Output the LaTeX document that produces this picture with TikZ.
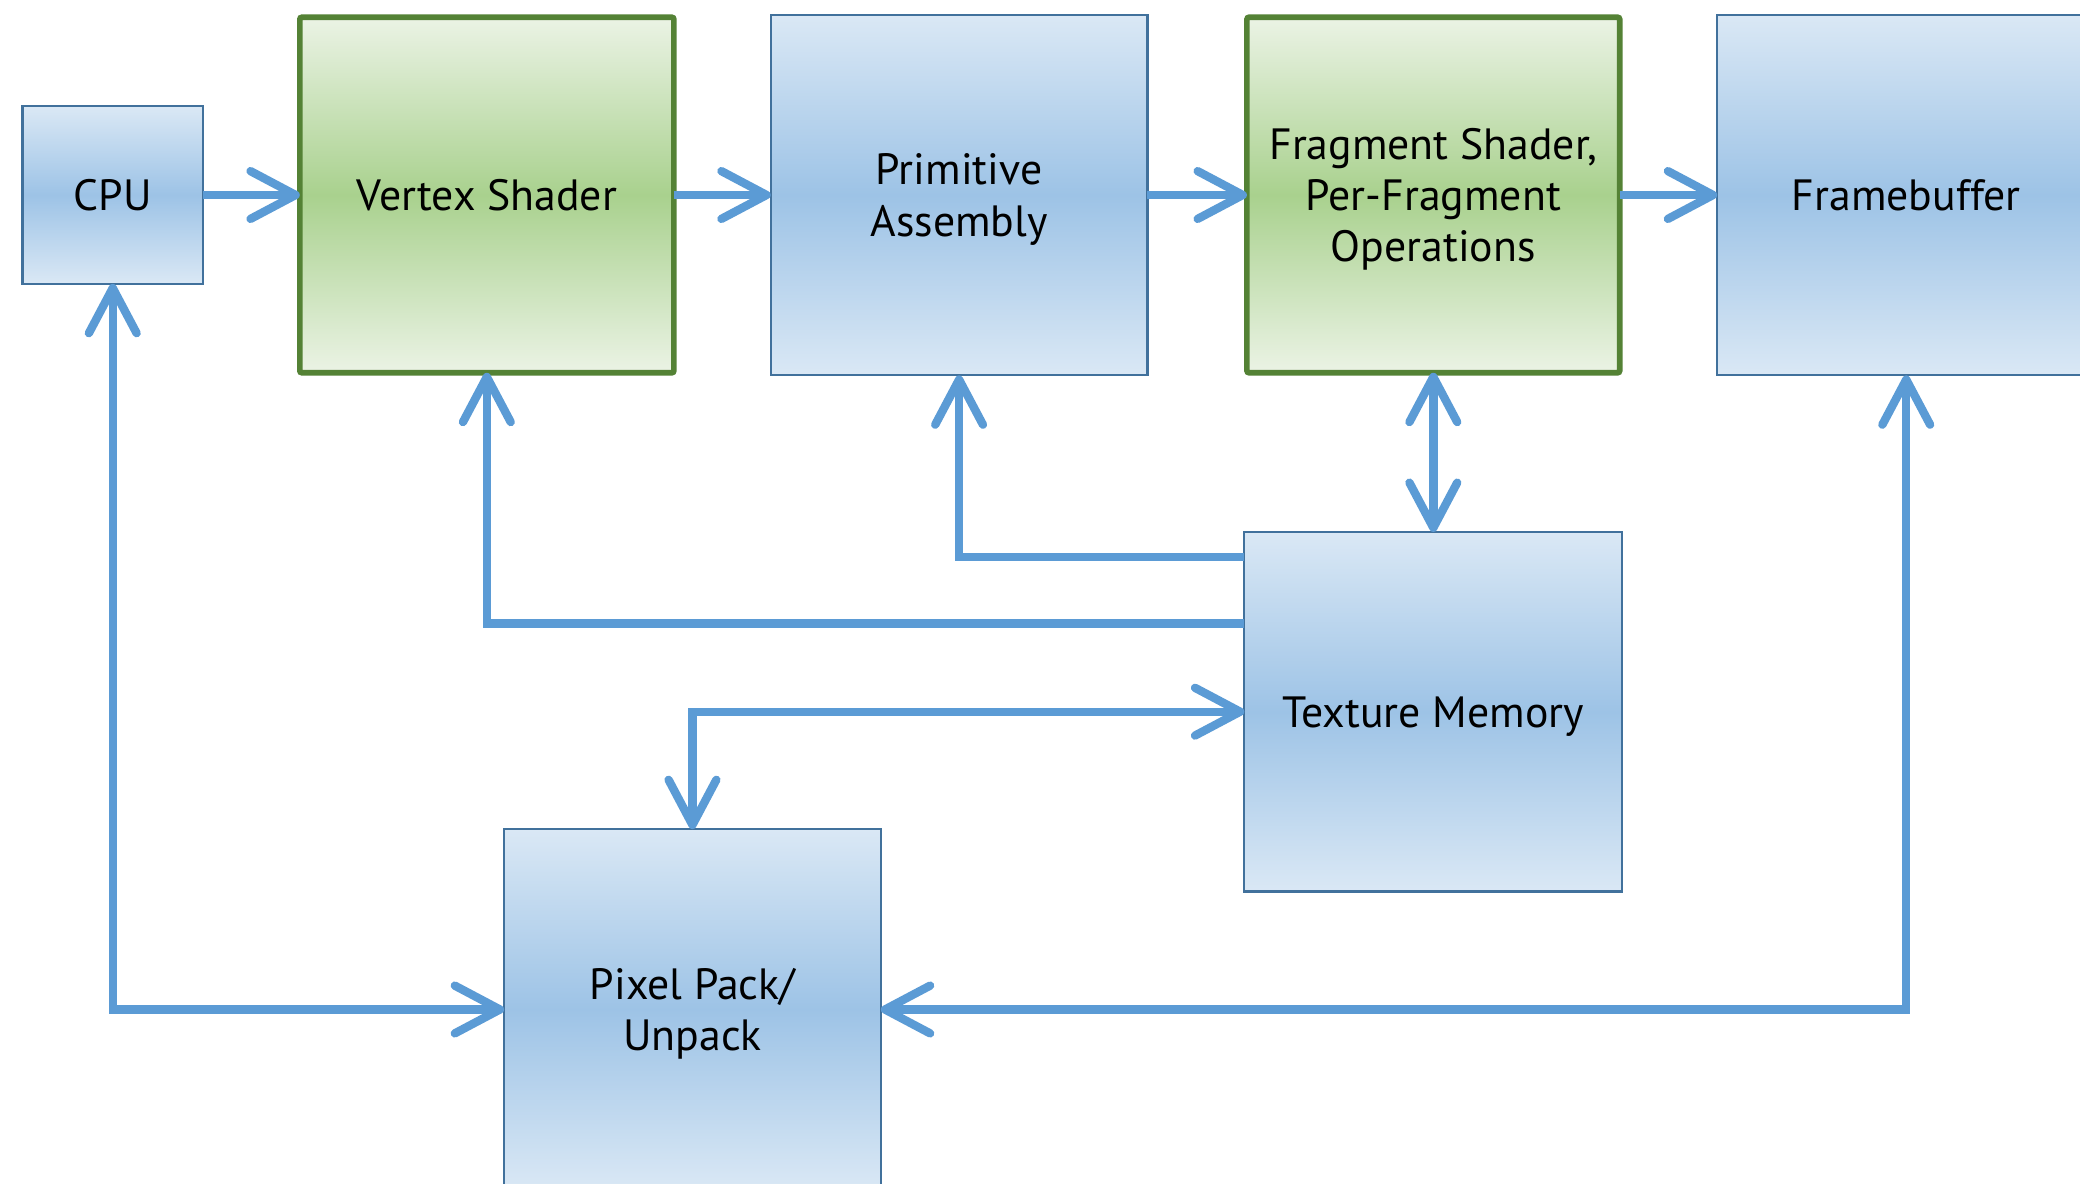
\documentclass[tikz,border=0pt]{standalone}
\usepackage{fontspec}
\setmainfont{PT Sans}
\usetikzlibrary{arrows.meta,calc}
\definecolor{boxedge}{HTML}{41719C}
\definecolor{bluetop}{HTML}{DAE8F5}
\definecolor{bluemid}{HTML}{9DC3E6}
\definecolor{greenedge}{HTML}{548235}
\definecolor{greentop}{HTML}{EBF3E5}
\definecolor{greenmid}{HTML}{A9D18E}
\definecolor{linkblue}{HTML}{5B9BD5}
\begin{document}
\begin{tikzpicture}[x=1pt,y=-1pt,
  >={Straight Barb[length=34pt,width=36pt,round]},
  every node/.style={font=\fontsize{33}{38.5}\selectfont, align=center,
    inner sep=0pt, outer sep=0pt, text depth=0pt},
  stage/.style={draw=boxedge, line width=1.6pt,
    top color=bluetop, bottom color=bluetop, middle color=bluemid},
  shader/.style={draw=greenedge, line width=4.2pt, rounded corners=1.5pt,
    top color=greentop, bottom color=greentop, middle color=greenmid},
  link/.style={draw=linkblue, line width=6.3pt}]

  \useasboundingbox (0,0) rectangle (1568,892);
  \fill[white] (0,0) rectangle (1568,892);
  \clip (0,0) rectangle (1568,892);

  % pipeline stages
  \node[stage, minimum width=136pt, minimum height=134pt] (cpu) at (85,147) {CPU};
  \node[shader, minimum width=282pt, minimum height=268pt] (vs) at (367,147) {Vertex Shader};
  \node[stage, minimum width=284pt, minimum height=272pt] (pa) at (723,147) {Primitive\\Assembly};
  \node[shader, minimum width=281pt, minimum height=268pt] (fs) at (1080.5,147)
    {Fragment Shader,\\Per-Fragment\\Operations};
  \node[stage, minimum width=285pt, minimum height=272pt] (fb) at (1437,147) {Framebuffer};
  \node[stage, minimum width=285pt, minimum height=271pt] (tm) at (1080.5,536.5) {Texture Memory};
  \node[stage, minimum width=284pt, minimum height=272pt] (pix) at (522,761) {Pixel Pack/\\Unpack};

  % taps on the left side of texture memory
  \coordinate (tmA) at ($(tm.north west)+(0,19)$);
  \coordinate (tmB) at ($(tm.north west)+(0,69)$);

  % main flow
  \draw[link,->] (cpu) -- (vs);
  \draw[link,->] (vs) -- (pa);
  \draw[link,->] (pa) -- (fs);
  \draw[link,->] (fs) -- (fb);

  % texture memory connections
  \draw[link,<->] (fs) -- (tm);
  \draw[link,->] (tmA) -| (pa.south);
  \draw[link,->] (tmB) -| (vs.south);
  \draw[link,<->] (tm.west) -| (pix.north);

  % pixel transfers
  \draw[link,<->] (cpu.south) |- (pix.west);
  \draw[link,<->] (fb.south) |- (pix.east);
\end{tikzpicture}
\end{document}
